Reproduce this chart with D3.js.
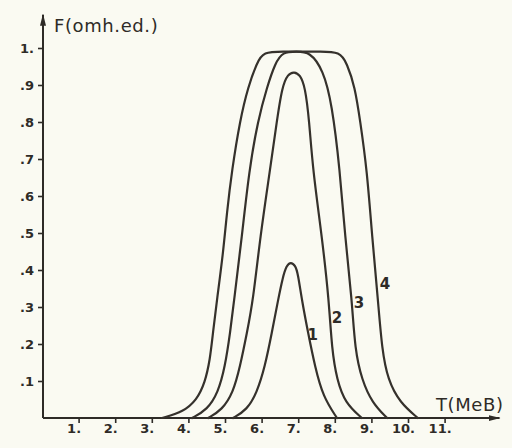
<!DOCTYPE html>
<html lang="en">
<head>
<meta charset="UTF-8">
<script src="https://d3js.org/d3.v7.min.js"></script>
<style>
  html, body { margin: 0; padding: 0; background: #fafaf2; overflow: hidden }
  svg { display: block; background: #fafaf2 }
  .curve { fill: none; stroke: #35312c; stroke-width: 2.2px; stroke-linecap: round }
  .axis path { display: none }
  .axis line { stroke: #2e2b27; stroke-width: 1.6px }
  .axis text { font-family: "DejaVu Sans", sans-serif; font-size: 13px; font-weight: bold; fill: #2e2b27 }
  .axisline { stroke: #2e2b27; stroke-width: 2px; fill: none }
  .title { font-family: "DejaVu Sans", sans-serif; font-size: 18px; fill: #2e2b27; letter-spacing: 0.6px }
  .num { font-family: "DejaVu Sans", sans-serif; font-size: 15px; font-weight: bold; fill: #2e2b27 }
</style>
</head>
<body>
<svg id="chart" width="512" height="448"></svg>
<script>
// tick values
const tTicks = [1, 2, 3, 4, 5, 6, 7, 8, 9, 10, 11];
const fTicks = [0.1, 0.2, 0.3, 0.4, 0.5, 0.6, 0.7, 0.8, 0.9, 1.0];

// curves, [T, F]
const curve1 = [[5.22, 0], [5.60, 0.022], [5.87, 0.068], [6.09, 0.138], [6.28, 0.23], [6.45, 0.319],
  [6.58, 0.381], [6.68, 0.412], [6.80, 0.422], [6.92, 0.412], [6.99, 0.392], [7.10, 0.319],
  [7.27, 0.23], [7.46, 0.138], [7.68, 0.057], [8.06, 0]];
const curve2 = [[4.54, 0], [4.92, 0.022], [5.22, 0.068], [5.41, 0.138], [5.60, 0.23], [5.77, 0.319],
  [5.96, 0.489], [6.23, 0.67], [6.42, 0.805], [6.56, 0.895], [6.72, 0.93], [6.89, 0.936],
  [7.05, 0.928], [7.19, 0.895], [7.30, 0.805], [7.40, 0.67], [7.65, 0.489], [7.84, 0.319],
  [7.92, 0.184], [8.06, 0.103], [8.28, 0.041], [8.74, 0]];
const curve3 = [[4.10, 0], [4.51, 0.022], [4.81, 0.068], [5.00, 0.138], [5.14, 0.23], [5.25, 0.319],
  [5.46, 0.489], [5.66, 0.67], [5.90, 0.805], [6.15, 0.895], [6.37, 0.959], [6.58, 0.99],
  [6.95, 0.99], [7.32, 0.99], [7.68, 0.941], [7.92, 0.851], [8.14, 0.67], [8.28, 0.489],
  [8.47, 0.319], [8.55, 0.184], [8.74, 0.103], [9.02, 0.041], [9.43, 0]];
const curve4 = [[3.28, 0], [3.85, 0.016], [4.23, 0.049], [4.45, 0.095], [4.59, 0.157], [4.67, 0.23],
  [4.78, 0.319], [4.95, 0.446], [5.05, 0.554], [5.19, 0.67], [5.41, 0.805], [5.63, 0.895],
  [5.87, 0.959], [6.04, 0.99], [6.6, 0.99], [7.1, 0.99], [7.6, 0.99], [8.14, 0.99],
  [8.33, 0.959], [8.55, 0.895], [8.69, 0.805], [8.88, 0.67], [9.02, 0.489], [9.18, 0.319],
  [9.29, 0.184], [9.45, 0.103], [9.78, 0.041], [10.27, 0]];

const curveNames = ["1", "2", "3", "4"];
const nameT = [7.40, 8.06, 8.66, 9.37];
const nameF = [0.224, 0.27, 0.311, 0.362];

const svg = d3.select("#chart");

const x = d3.scaleLinear().domain([0, 12.5]).range([42, 499.5]);
const y = d3.scaleLinear().domain([0, 1]).range([418, 48]);

// arrow heads
const defs = svg.append("defs");
defs.append("marker")
    .attr("id", "arrow")
    .attr("viewBox", "0 0 12 6")
    .attr("refX", 11).attr("refY", 3)
    .attr("markerWidth", 12).attr("markerHeight", 6)
    .attr("markerUnits", "userSpaceOnUse")
    .attr("orient", "auto")
  .append("path")
    .attr("d", "M0,0 L12,3 L0,6 Z")
    .attr("fill", "#2e2b27");

// axis lines
svg.append("line").attr("class", "axisline")
    .attr("x1", x(0) + 1).attr("y1", y(0))
    .attr("x2", x(0) + 1).attr("y2", y(1.09))
    .attr("marker-end", "url(#arrow)");
svg.append("line").attr("class", "axisline")
    .attr("x1", x(0) + 1).attr("y1", y(0))
    .attr("x2", x(12.5)).attr("y2", y(0))
    .attr("marker-end", "url(#arrow)");

// ticks
svg.append("g")
    .attr("class", "axis")
    .attr("transform", `translate(${x(0) + 1},0)`)
    .call(d3.axisLeft(y).tickValues(fTicks).tickSize(5).tickPadding(4)
      .tickFormat(d => d === 1 ? "1." : "." + Math.round(d * 10)));

svg.append("g")
    .attr("class", "axis")
    .attr("transform", `translate(0,${y(0)})`)
    .call(d3.axisBottom(x).tickValues(tTicks).tickSize(5).tickPadding(1)
      .tickFormat(d => d + "."))
  .selectAll("text")
    .attr("dx", "-5");

// curves - B-spline to get the smooth hand-drawn look
const line = d3.line()
    .x(d => x(d[0]))
    .y(d => y(d[1]))
    .curve(d3.curveBasis);

svg.selectAll(".curve")
  .data([curve1, curve2, curve3, curve4])
  .join("path")
    .attr("class", "curve")
    .attr("d", line);

svg.selectAll(".num")
  .data(curveNames)
  .join("text")
    .attr("class", "num")
    .attr("x", (d, i) => x(nameT[i]))
    .attr("y", (d, i) => y(nameF[i]))
    .attr("text-anchor", "middle")
    .attr("dy", "0.35em")
    .text(d => d);

// axis titles
svg.append("text").attr("class", "title")
    .attr("x", 54).attr("y", 32)
    .text("F(omh.ed.)");
svg.append("text").attr("class", "title")
    .attr("x", 436).attr("y", 411)
    .text("T(MeB)");
</script>
</body>
</html>
